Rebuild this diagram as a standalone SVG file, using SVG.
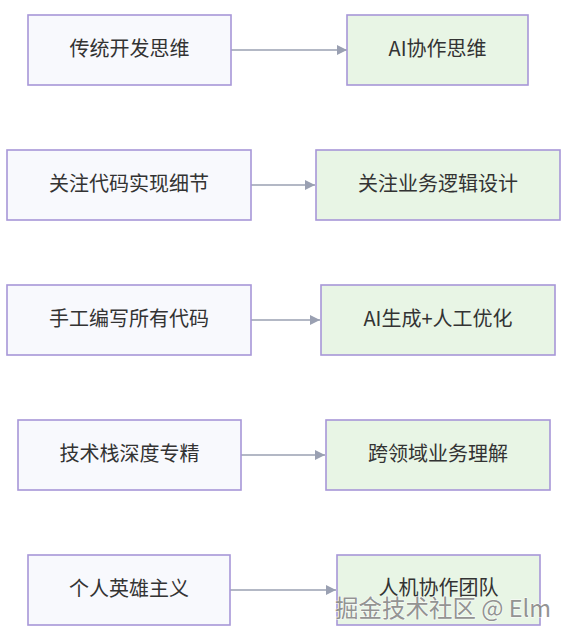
<svg xmlns="http://www.w3.org/2000/svg" width="574" height="640" viewBox="0 0 574 640">
<style>
.l{fill:#f8f9fd;stroke:#a797d8;stroke-width:1.6}
.r{fill:#e8f5e5;stroke:#a797d8;stroke-width:1.6}
.t{font-family:"Noto Sans CJK SC","Noto Sans",sans-serif;font-size:20px;fill:#333;text-anchor:middle;dominant-baseline:central}
.e{stroke:#9aa0b2;stroke-width:1.5;fill:none}
.wm{font-family:"Noto Sans CJK SC","Noto Sans",sans-serif;font-size:23.5px;fill:#8a8a8a;stroke:#ffffff;stroke-width:1.2;paint-order:stroke;opacity:0.9}
</style>
<defs>
<marker id="a" viewBox="0 0 10 10" refX="10" refY="5" markerWidth="10" markerHeight="10" markerUnits="userSpaceOnUse" orient="auto">
<path d="M0,0 L10,5 L0,10 z" fill="#9aa0b2"/>
</marker>
</defs>
<rect width="574" height="640" fill="#ffffff"/>
<g id="connectors">
<line class="e" x1="231" y1="50" x2="347" y2="50" marker-end="url(#a)"/>
<line class="e" x1="251" y1="185" x2="315" y2="185" marker-end="url(#a)"/>
<line class="e" x1="251" y1="320" x2="320" y2="320" marker-end="url(#a)"/>
<line class="e" x1="241" y1="455" x2="325" y2="455" marker-end="url(#a)"/>
<line class="e" x1="230" y1="590" x2="336" y2="590" marker-end="url(#a)"/>
</g>
<g id="n1"><rect class="l" x="28" y="15" width="203" height="70"/><text class="t" x="129.5" y="47">传统开发思维</text></g>
<g id="n2"><rect class="r" x="347" y="15" width="181" height="70"/><text class="t" x="437.5" y="47">AI协作思维</text></g>
<g id="n3"><rect class="l" x="7" y="150" width="244" height="70"/><text class="t" x="129" y="182">关注代码实现细节</text></g>
<g id="n4"><rect class="r" x="316" y="150" width="244" height="70"/><text class="t" x="438" y="182">关注业务逻辑设计</text></g>
<g id="n5"><rect class="l" x="7" y="285" width="244" height="70"/><text class="t" x="129" y="317">手工编写所有代码</text></g>
<g id="n6"><rect class="r" x="321" y="285" width="234" height="70"/><text class="t" x="438" y="317">AI生成+人工优化</text></g>
<g id="n7"><rect class="l" x="18" y="420" width="223" height="70"/><text class="t" x="129.5" y="452">技术栈深度专精</text></g>
<g id="n8"><rect class="r" x="326" y="420" width="224" height="70"/><text class="t" x="438" y="452">跨领域业务理解</text></g>
<g id="n9"><rect class="l" x="28" y="555" width="202" height="70"/><text class="t" x="129" y="587">个人英雄主义</text></g>
<g id="n10"><rect class="r" x="337" y="555" width="203" height="70"/><text class="t" x="438.5" y="586">人机协作团队</text></g>
<text class="wm" x="335" y="617">掘金技术社区 @ Elm</text>
</svg>
